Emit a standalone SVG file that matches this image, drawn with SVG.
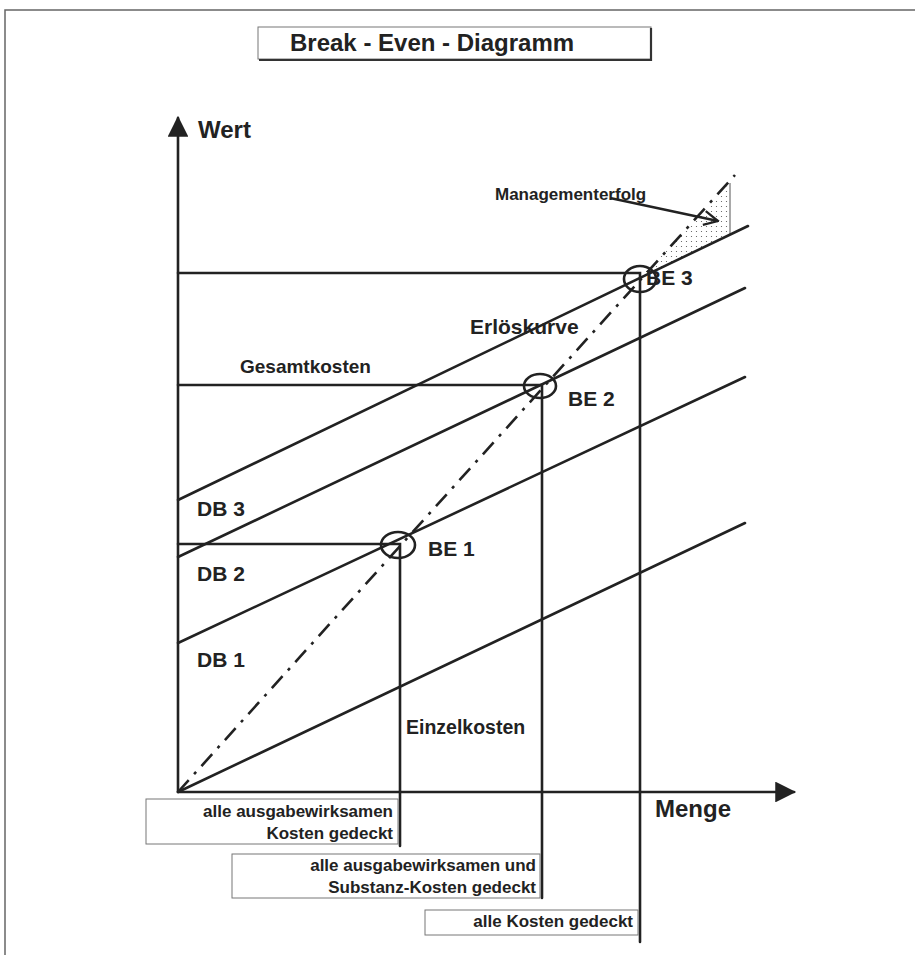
<svg xmlns="http://www.w3.org/2000/svg" width="915" height="955" viewBox="0 0 915 955">
<defs>
<style>
.t{font-family:"Liberation Sans",Arial,sans-serif;font-weight:bold;fill:#222;}
.ln{stroke:#222;stroke-width:2.6;fill:none;stroke-linecap:round;}
.box{fill:#fff;stroke:#777;stroke-width:1;}
</style>
<pattern id="dots" width="5" height="5" patternUnits="userSpaceOnUse">
<circle cx="1.5" cy="1.5" r="0.6" fill="#555"/>
</pattern>
<marker id="ah" viewBox="0 0 10 10" refX="9" refY="5" markerWidth="8" markerHeight="8" orient="auto" markerUnits="strokeWidth">
<path d="M0,0 L10,5 L0,10 z" fill="#222"/>
</marker>
<marker id="open" viewBox="0 0 12 12" refX="11" refY="6" markerWidth="7" markerHeight="7" orient="auto" markerUnits="strokeWidth">
<path d="M1,1 L11,6 L1,11" fill="none" stroke="#222" stroke-width="1.6"/>
</marker>
</defs>
<rect width="915" height="955" fill="#fff"/>
<g id="page-border">
<path d="M5,955 L5,10 L915,10" fill="none" stroke="#666" stroke-width="1.5"/>
</g>
<g id="title">
<rect x="258" y="27" width="393" height="32" class="box"/>
<path d="M651,28 L651,60 L259,60" fill="none" stroke="#333" stroke-width="2.2"/>
<text x="290" y="51" class="t" font-size="24">Break - Even - Diagramm</text>
</g>
<g id="connectors">
<line x1="178" y1="792" x2="178" y2="118" class="ln" marker-end="url(#ah)"/>
<line x1="178" y1="792" x2="794" y2="792" class="ln" marker-end="url(#ah)"/>
<polygon points="638,280 730,183 730,233" fill="url(#dots)" stroke="none"/>
<line x1="730" y1="183" x2="730" y2="234" stroke="#555" stroke-width="1"/>
<line x1="178" y1="792" x2="745" y2="523" class="ln"/>
<line x1="178" y1="643" x2="745" y2="377" class="ln"/>
<line x1="178" y1="557" x2="745" y2="288" class="ln"/>
<line x1="178" y1="500" x2="748" y2="226" class="ln"/>
<line x1="178" y1="792" x2="735" y2="175" stroke="#222" stroke-width="2.6" stroke-dasharray="16,8,3,8"/>
<polyline points="178,544 400,544 400,846" class="ln"/>
<polyline points="178,385 542,385 542,898" class="ln"/>
<polyline points="178,273 640,273 640,942" class="ln"/>
<line x1="610" y1="198" x2="718" y2="221" stroke="#222" stroke-width="2.4" marker-end="url(#open)"/>
</g>
<g id="be1"><ellipse cx="398" cy="545" rx="17" ry="13" class="ln"/><text x="428" y="556" class="t" font-size="21">BE 1</text></g>
<g id="be2"><ellipse cx="540" cy="386" rx="16" ry="12" class="ln"/><text x="568" y="406" class="t" font-size="21">BE 2</text></g>
<g id="be3"><ellipse cx="640" cy="279" rx="16" ry="13" class="ln"/><text x="646" y="285" class="t" font-size="21">BE 3</text></g>
<g id="labels">
<text x="198" y="138" class="t" font-size="24">Wert</text>
<text x="655" y="817" class="t" font-size="24">Menge</text>
<text x="495" y="200" class="t" font-size="17">Managementerfolg</text>
<text x="470" y="334" class="t" font-size="21">Erlöskurve</text>
<text x="240" y="373" class="t" font-size="19">Gesamtkosten</text>
<text x="197" y="516" class="t" font-size="21">DB 3</text>
<text x="197" y="581" class="t" font-size="21">DB 2</text>
<text x="197" y="667" class="t" font-size="21">DB 1</text>
<text x="406" y="734" class="t" font-size="19.5">Einzelkosten</text>
</g>
<g id="box1">
<rect x="146" y="799" width="252" height="45" class="box"/>
<text x="393" y="817" class="t" font-size="17" text-anchor="end">alle ausgabewirksamen</text>
<text x="393" y="839" class="t" font-size="17" text-anchor="end">Kosten gedeckt</text>
</g>
<g id="box2">
<rect x="232" y="854" width="308" height="44" class="box"/>
<text x="536" y="871" class="t" font-size="17" text-anchor="end">alle ausgabewirksamen und</text>
<text x="536" y="893" class="t" font-size="17" text-anchor="end">Substanz-Kosten gedeckt</text>
</g>
<g id="box3">
<rect x="425" y="910" width="213" height="25" class="box"/>
<text x="633" y="927" class="t" font-size="17" text-anchor="end">alle Kosten gedeckt</text>
</g>
</svg>
